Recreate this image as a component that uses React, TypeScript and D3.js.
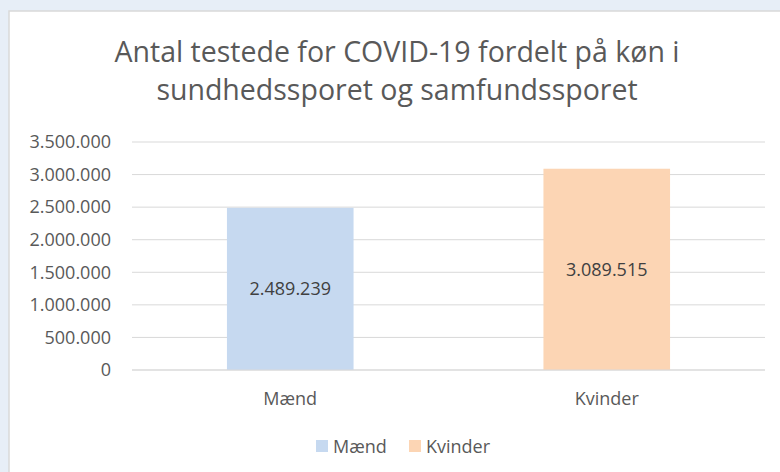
import React from "react";
import * as d3 from "d3";

const categories = ["Mænd", "Kvinder"];
const values = [2489239, 3089515];
const colors = ["#c6d9f0", "#fcd5b4"];
const yTicks = [0, 500000, 1000000, 1500000, 2000000, 2500000, 3000000, 3500000];
const titleLines = ["Antal testede for COVID-19 fordelt på køn i", "sundhedssporet og samfundssporet"];

const W = 780;
const H = 472;
const FONT = "'Open Sans', 'Noto Sans', sans-serif";

const fmt = (v: number) => d3.format(",")(v).replace(/,/g, ".");

export default function App() {
  const plot = { left: 132, right: 765, top: 142, bottom: 370 };

  const x = d3
    .scaleBand<string>()
    .domain(categories)
    .range([plot.left, plot.right])
    .paddingInner(0.6)
    .paddingOuter(0.3);
  const y = d3.scaleLinear().domain([0, 3500000]).range([plot.bottom, plot.top]);

  return (
    <svg
      width={W}
      height={H}
      style={{ position: "absolute", left: 0, top: 0 }}
      fontFamily={FONT}
    >
      <rect x={0} y={0} width={W} height={H} fill="#e7eef7" />
      <rect x={9} y={11} width={W} height={H} fill="#ffffff" stroke="#d9d9d9" strokeWidth={1.5} />

      {titleLines.map((t, i) => (
        <text
          key={t}
          x={397}
          y={62 + i * 38}
          textAnchor="middle"
          fontSize={28.5}
          fill="#595959"
        >
          {t}
        </text>
      ))}

      {yTicks.map(t => (
        <g key={t}>
          <line x1={plot.left} x2={plot.right} y1={y(t)} y2={y(t)} stroke="#d9d9d9" strokeWidth={1} />
          <text x={111} y={y(t)} dy="0.35em" textAnchor="end" fontSize={18} fill="#595959">
            {fmt(t)}
          </text>
        </g>
      ))}

      {categories.map((c, i) => (
        <g key={c}>
          <rect
            x={x(c)}
            y={y(values[i])}
            width={x.bandwidth()}
            height={plot.bottom - y(values[i])}
            fill={colors[i]}
          />
          <text
            x={(x(c) as number) + x.bandwidth() / 2}
            y={(y(values[i]) + plot.bottom) / 2}
            dy="0.35em"
            textAnchor="middle"
            fontSize={18}
            fill="#404040"
          >
            {fmt(values[i])}
          </text>
          <text
            x={(x(c) as number) + x.bandwidth() / 2}
            y={405}
            textAnchor="middle"
            fontSize={18}
            fill="#595959"
          >
            {c}
          </text>
        </g>
      ))}
      <line x1={plot.left} x2={plot.right} y1={plot.bottom} y2={plot.bottom} stroke="#d9d9d9" strokeWidth={1.2} />

      {categories.map((c, i) => {
        const lx = [316, 409][i];
        return (
          <g key={"leg" + c}>
            <rect x={lx} y={440} width={12} height={12} fill={colors[i]} />
            <text x={lx + 17} y={452.5} fontSize={18} fill="#595959">
              {c}
            </text>
          </g>
        );
      })}
    </svg>
  );
}
